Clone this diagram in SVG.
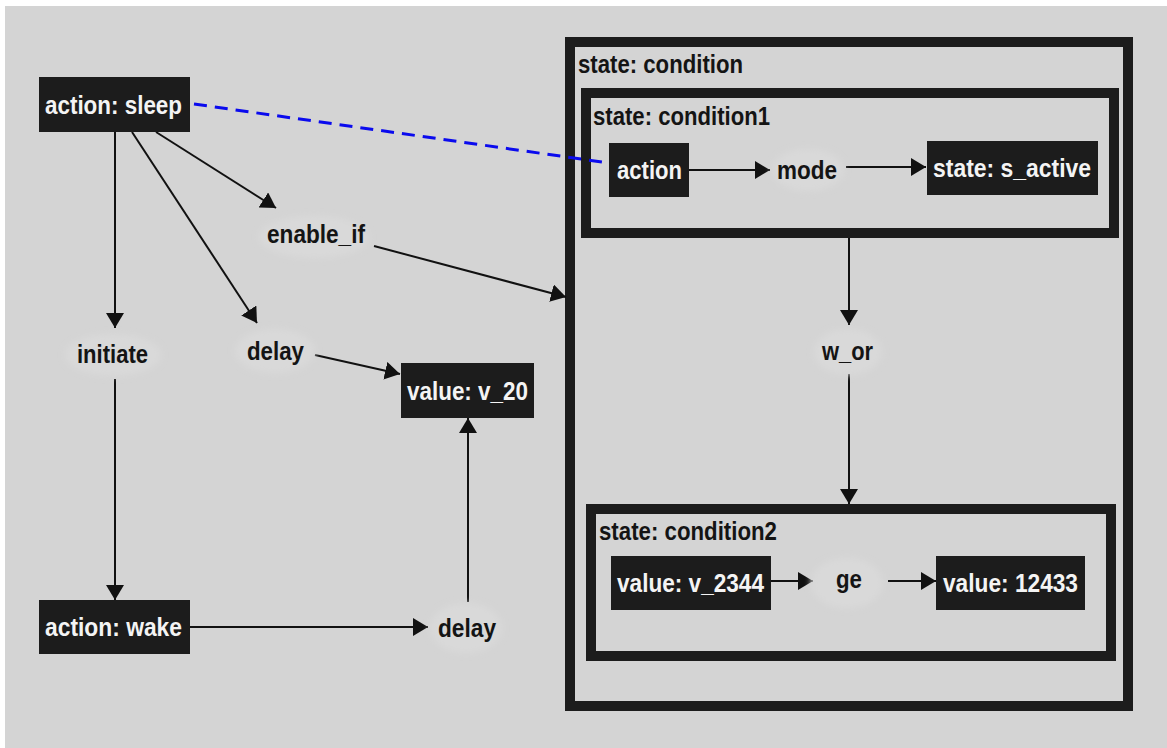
<svg xmlns="http://www.w3.org/2000/svg" width="1167" height="748" viewBox="0 0 1167 748">
  <style>
    .bg { fill: #d4d4d4; }
    .box { fill: #1c1c1c; }
    .frame { fill: none; stroke: #1c1c1c; stroke-width: 10; }
    .blob { fill: #d9d9d9; filter: url(#soft); }
    text { font-family: "Liberation Sans", Arial, sans-serif; font-weight: bold; font-size: 26px; }
    .light { fill: #f4f4f4; }
    .dark { fill: #141414; }
    .edge { fill: none; stroke: #111111; stroke-width: 2; marker-end: url(#arrow); }
    .link { fill: none; stroke: #0a0aee; stroke-width: 3; stroke-dasharray: 13 8; }
  </style>
  <defs>
    <marker id="arrow" viewBox="0 0 15 18" refX="15" refY="9" markerWidth="15" markerHeight="18" markerUnits="userSpaceOnUse" orient="auto">
      <path d="M0,0 L15,9 L0,18 z" fill="#111111"/>
    </marker>
    <filter id="soft" x="-30%" y="-30%" width="160%" height="160%">
      <feGaussianBlur stdDeviation="3"/>
    </filter>
  </defs>

  <!-- canvas -->
  <rect x="0" y="0" width="1167" height="748" fill="#ffffff"/>
  <rect class="bg" x="5" y="6" width="1162" height="742"/>

  <!-- container: state: condition -->
  <g id="state-condition">
    <rect class="frame" x="570" y="42" width="558" height="664"/>
    <text class="dark" x="578" y="73" textLength="165" lengthAdjust="spacingAndGlyphs">state: condition</text>
  </g>

  <!-- container: state: condition1 -->
  <g id="state-condition1">
    <rect class="frame" x="586" y="93" width="528" height="140"/>
    <text class="dark" x="593" y="125" textLength="177" lengthAdjust="spacingAndGlyphs">state: condition1</text>
  </g>

  <!-- container: state: condition2 -->
  <g id="state-condition2">
    <rect class="frame" x="591" y="509" width="520" height="147"/>
    <text class="dark" x="599" y="540" textLength="178" lengthAdjust="spacingAndGlyphs">state: condition2</text>
  </g>

  <!-- connectors -->
  <g id="connectors">
    <line class="link" x1="194" y1="104" x2="609" y2="163"/>
    <line class="edge" x1="156" y1="132" x2="276" y2="208"/>
    <line class="edge" x1="132" y1="132" x2="257" y2="323"/>
    <line class="edge" x1="115" y1="132" x2="115" y2="328"/>
    <line class="edge" x1="115" y1="379" x2="115" y2="600"/>
    <line class="edge" x1="190" y1="627" x2="428" y2="627"/>
    <line class="edge" x1="468" y1="602" x2="468" y2="418"/>
    <line class="edge" x1="315" y1="355" x2="400" y2="374"/>
    <line class="edge" x1="374" y1="246" x2="566" y2="297"/>
    <line class="edge" x1="689" y1="170" x2="770" y2="170"/>
    <line class="edge" x1="846" y1="167" x2="926" y2="167"/>
    <line class="edge" x1="849" y1="238" x2="849" y2="325"/>
    <line class="edge" x1="849" y1="374" x2="849" y2="504"/>
    <line class="edge" x1="771" y1="581" x2="813" y2="581"/>
    <line class="edge" x1="888" y1="581" x2="936" y2="581"/>
  </g>

  <!-- action nodes and value nodes -->
  <g id="action-sleep">
    <rect class="box" x="39" y="77" width="151" height="55"/>
    <text class="light" x="45" y="114" textLength="137" lengthAdjust="spacingAndGlyphs">action: sleep</text>
  </g>
  <g id="action-wake">
    <rect class="box" x="39" y="600" width="151" height="54"/>
    <text class="light" x="45" y="636" textLength="137" lengthAdjust="spacingAndGlyphs">action: wake</text>
  </g>
  <g id="value-v20">
    <rect class="box" x="401" y="363" width="133" height="55"/>
    <text class="light" x="407" y="400" textLength="121" lengthAdjust="spacingAndGlyphs">value: v_20</text>
  </g>
  <g id="action">
    <rect class="box" x="609" y="143" width="80" height="54"/>
    <text class="light" x="617" y="179" textLength="65" lengthAdjust="spacingAndGlyphs">action</text>
  </g>
  <g id="state-s-active">
    <rect class="box" x="927" y="141" width="171" height="54"/>
    <text class="light" x="933" y="177" textLength="158" lengthAdjust="spacingAndGlyphs">state: s_active</text>
  </g>
  <g id="value-v2344">
    <rect class="box" x="611" y="556" width="160" height="54"/>
    <text class="light" x="617" y="592" textLength="147" lengthAdjust="spacingAndGlyphs">value: v_2344</text>
  </g>
  <g id="value-12433">
    <rect class="box" x="936" y="556" width="149" height="54"/>
    <text class="light" x="943" y="592" textLength="135" lengthAdjust="spacingAndGlyphs">value: 12433</text>
  </g>

  <!-- relation labels -->
  <g id="enable-if">
    <ellipse class="blob" cx="314" cy="237" rx="55" ry="21"/>
    <text class="dark" x="267" y="243" textLength="98" lengthAdjust="spacingAndGlyphs">enable_if</text>
  </g>
  <g id="initiate">
    <ellipse class="blob" cx="113" cy="355" rx="48" ry="21"/>
    <text class="dark" x="77" y="363" textLength="71" lengthAdjust="spacingAndGlyphs">initiate</text>
  </g>
  <g id="delay-1">
    <ellipse class="blob" cx="275" cy="351" rx="40" ry="22"/>
    <text class="dark" x="247" y="360" textLength="57" lengthAdjust="spacingAndGlyphs">delay</text>
  </g>
  <g id="delay-2">
    <ellipse class="blob" cx="466" cy="628" rx="36" ry="25"/>
    <text class="dark" x="438" y="637" textLength="58" lengthAdjust="spacingAndGlyphs">delay</text>
  </g>
  <g id="mode">
    <ellipse class="blob" cx="808" cy="170" rx="36" ry="21"/>
    <text class="dark" x="777" y="179" textLength="60" lengthAdjust="spacingAndGlyphs">mode</text>
  </g>
  <g id="w-or">
    <ellipse class="blob" cx="848" cy="352" rx="34" ry="23"/>
    <text class="dark" x="822" y="360" textLength="51" lengthAdjust="spacingAndGlyphs">w_or</text>
  </g>
  <g id="ge">
    <ellipse class="blob" cx="847" cy="583" rx="36" ry="25"/>
    <text class="dark" x="836" y="588" textLength="26" lengthAdjust="spacingAndGlyphs">ge</text>
  </g>
</svg>
